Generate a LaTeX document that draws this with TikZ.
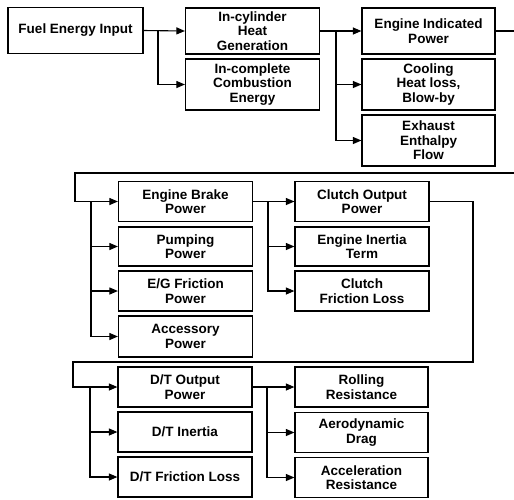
\documentclass[tikz,border=0pt]{standalone}
\usepackage{fontspec}
\setmainfont{Liberation Sans}
\usepackage{tikz}
\usetikzlibrary{arrows.meta}

\tikzset{
  blk/.style={draw, line width=1.2pt, inner sep=0pt, minimum width=134pt,
    minimum height=40pt, align=center,
    font=\bfseries\fontsize{13.5}{14.5}\selectfont},
  tall/.style={minimum height=46pt},
  taller/.style={minimum height=51pt},
  flow/.style={line width=1.1pt, -{Triangle[length=8.5pt,width=7pt]}},
  wire/.style={line width=1.1pt}
}

\begin{document}
\begin{tikzpicture}[x=1pt,y=-1pt]
\useasboundingbox (0,0) rectangle (514,499);

% first row
\node[blk,tall,minimum width=135pt] (fuel) at (75.5,30.5) {Fuel Energy Input};
\node[blk,tall] (incyl) at (252.5,31) {In-cylinder\\Heat\\Generation};
\node[blk,taller] (incomp) at (252.5,84.5) {In-complete\\Combustion\\Energy};
\node[blk,tall,minimum width=133pt] (indic) at (428.5,31) {Engine Indicated\\Power};
\node[blk,taller,minimum width=133pt] (cool) at (428.5,84.5) {Cooling\\Heat loss,\\Blow-by};
\node[blk,taller,minimum width=133pt] (exh) at (428.5,140.5) {Exhaust\\Enthalpy\\Flow};

\draw[flow] (fuel.east) -- (incyl.west);
\draw[flow] (158,31) |- (incomp.west);
\draw[flow] (incyl.east) -- (indic.west);
\draw[flow] (336,31) |- (cool.west);
\draw[flow] (336,31) |- (exh.west);

% second row
\node[blk] (brake) at (185.5,201.5) {Engine Brake\\Power};
\node[blk,minimum height=39pt] (pump) at (185.5,246.5) {Pumping\\Power};
\node[blk] (egfric) at (185.5,291) {E/G Friction\\Power};
\node[blk,minimum height=41pt] (acc) at (185.5,336.5) {Accessory\\Power};
\node[blk] (clutch) at (362,201.5) {Clutch Output\\Power};
\node[blk,minimum height=39pt] (inert) at (362,246.5) {Engine Inertia\\Term};
\node[blk] (clfric) at (362,291) {Clutch\\Friction Loss};

\draw[flow] (indic.east) -- (525,31) |- (75,173) |- (brake.west);
\draw[flow] (91,201.5) |- (pump.west);
\draw[flow] (91,201.5) |- (egfric.west);
\draw[flow] (91,201.5) |- (acc.west);
\draw[flow] (brake.east) -- (clutch.west);
\draw[flow] (268,201.5) |- (inert.west);
\draw[flow] (268,201.5) |- (clfric.west);

% third row
\node[blk] (dtout) at (185,387) {D/T Output\\Power};
\node[blk] (dtin) at (185,432) {D/T Inertia};
\node[blk] (dtfric) at (185,477) {D/T Friction Loss};
\node[blk,minimum width=133pt] (roll) at (361.5,387) {Rolling\\Resistance};
\node[blk,minimum width=133pt] (aero) at (361.5,432.5) {Aerodynamic\\Drag};
\node[blk,minimum width=133pt] (accel) at (361.5,477.5) {Acceleration\\Resistance};

\draw[flow] (clutch.east) -- (473,201.5) |- (73,362) |- (dtout.west);
\draw[flow] (90,387) |- (dtin.west);
\draw[flow] (90,387) |- (dtfric.west);
\draw[flow] (dtout.east) -- (roll.west);
\draw[flow] (267,387) |- (aero.west);
\draw[flow] (267,387) |- (accel.west);
\end{tikzpicture}
\end{document}
